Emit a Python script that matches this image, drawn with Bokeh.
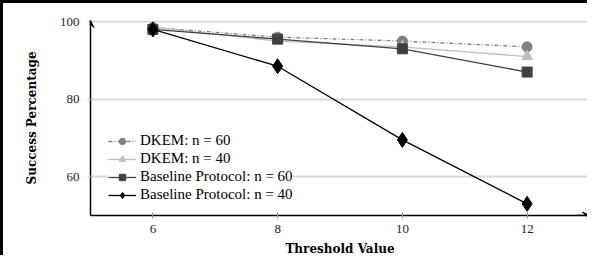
from bokeh.plotting import figure
from bokeh.models import Range1d, Arrow, VeeHead, Legend, LegendItem, FixedTicker
from bokeh.embed import file_html
from bokeh.resources import INLINE

thresholds = [6, 8, 10, 12]
dkem_60 = [98.5, 96.0, 95.0, 93.5]
dkem_40 = [98.5, 95.0, 93.5, 91.0]
base_60 = [98.0, 95.5, 93.0, 87.0]
base_40 = [98.0, 88.5, 69.5, 53.0]
y_ticks = [60, 80, 100]
labels = ["DKEM: n = 60", "DKEM: n = 40", "Baseline Protocol: n = 60", "Baseline Protocol: n = 40"]

X0, X1 = 5, 13
Y0, Y1 = 50, 100.3

p = figure(width=587, height=255, x_range=Range1d(X0, X1), y_range=Range1d(Y0, Y1),
           output_backend="svg", toolbar_location=None,
           min_border_left=87, min_border_right=1, min_border_top=17, min_border_bottom=42)
p.styles = {"border-left": "3px solid black", "border-top": "3px solid black"}
p.outline_line_color = None
p.background_fill_color = "white"
p.border_fill_color = "white"

p.xgrid.grid_line_color = None
p.ygrid.grid_line_color = "#d9d9d9"
p.ygrid.grid_line_width = 2
p.ygrid.ticker = FixedTicker(ticks=y_ticks)

p.xaxis.ticker = FixedTicker(ticks=thresholds)
p.yaxis.ticker = FixedTicker(ticks=y_ticks)
p.xaxis.minor_tick_line_color = None
p.yaxis.minor_tick_line_color = None
p.xaxis.major_tick_in = 3
p.xaxis.major_tick_out = 3
p.xaxis.major_tick_line_color = "#999999"
p.yaxis.major_tick_in = 0
p.yaxis.major_tick_out = 3
p.yaxis.major_tick_line_color = "#d9d9d9"
p.yaxis.major_tick_line_width = 2
for ax in (p.xaxis, p.yaxis):
    ax.axis_line_color = "black"
    ax.axis_line_width = 1.5
    ax.major_label_text_font = "Liberation Serif"
    ax.major_label_text_font_size = "13px"
    ax.major_label_text_color = "#222222"
    ax.axis_label_text_font = "DejaVu Serif"
    ax.axis_label_text_font_style = "bold"
    ax.axis_label_text_font_size = "12px"
    ax.axis_label_text_color = "black"
p.xaxis.axis_label = "Threshold Value"
p.yaxis.axis_label = "Success Percentage"
p.xaxis.major_label_standoff = 6
p.yaxis.major_label_standoff = 8
p.xaxis.axis_label_standoff = 6
p.yaxis.axis_label_standoff = 18

r1l = p.line(thresholds, dkem_60, line_color="#808080", line_width=1.3, line_dash="4 2 1 2")
r1m = p.scatter(thresholds, dkem_60, marker="circle", size=10, fill_color="#808080", line_color="#808080")
r2l = p.line(thresholds, dkem_40, line_color="#bfbfbf", line_width=1.3)
r2m = p.scatter(thresholds, dkem_40, marker="triangle", size=11, fill_color="#bfbfbf", line_color="#bfbfbf")
r3l = p.line(thresholds, base_60, line_color="#404040", line_width=1.3)
r3m = p.scatter(thresholds, base_60, marker="square", size=10, fill_color="#404040", line_color="#404040")
r4l = p.line(thresholds, base_40, line_color="black", line_width=1.3)
r4m = p.scatter(thresholds, base_40, marker="diamond", size=15, fill_color="black", line_color="black")

head_kw = dict(size=7, fill_color="black", line_color="black", line_width=1)
p.add_layout(Arrow(end=VeeHead(**head_kw), x_start=X1 - 0.2, y_start=Y0, x_end=X1, y_end=Y0,
                   line_color="black", line_width=1.5))
p.add_layout(Arrow(end=VeeHead(**head_kw), x_start=X0, y_start=Y1 - 1.5, x_end=X0, y_end=Y1,
                   line_color="black", line_width=1.5))

legend = Legend(items=[
    LegendItem(label=labels[0], renderers=[r1l, r1m]),
    LegendItem(label=labels[1], renderers=[r2l, r2m]),
    LegendItem(label=labels[2], renderers=[r3l, r3m]),
    LegendItem(label=labels[3], renderers=[r4l, r4m]),
], location=(18, 12))
legend.label_text_font = "Liberation Serif"
legend.label_text_font_size = "15px"
legend.label_text_color = "black"
legend.glyph_width = 28
legend.glyph_height = 16
legend.label_standoff = 4
legend.spacing = 1
legend.padding = 3
legend.margin = 0
legend.border_line_color = None
legend.background_fill_color = "white"
legend.background_fill_alpha = 1
p.add_layout(legend, "center")

open("out.html", "w").write(file_html(p, INLINE))
